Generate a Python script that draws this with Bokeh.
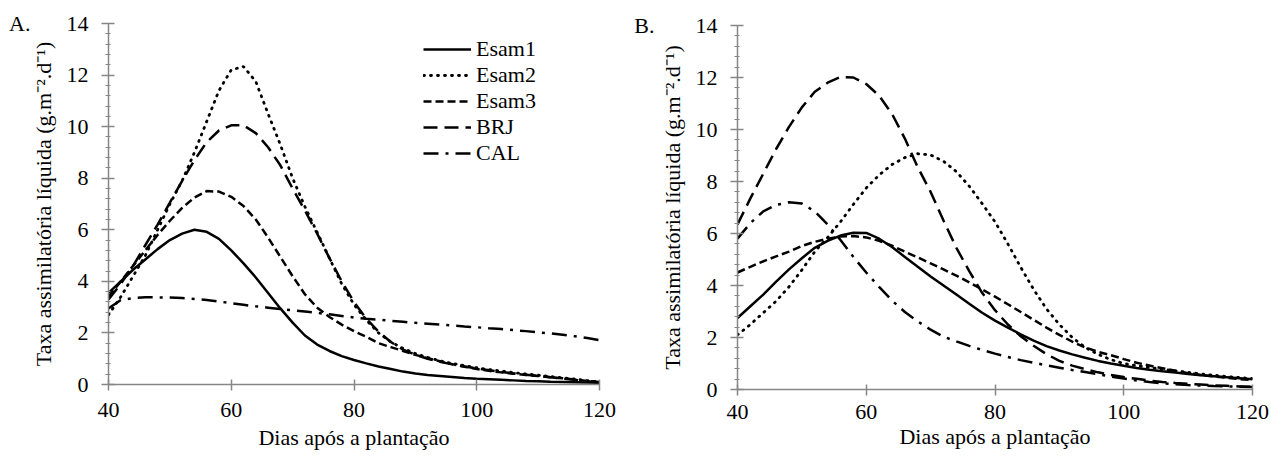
from bokeh.plotting import figure
from bokeh.layouts import row
from bokeh.models import Legend, LegendItem, SingleIntervalTicker, FixedTicker, LinearAxis, Range1d
from bokeh.embed import file_html
from bokeh.resources import INLINE

days = [40, 42, 44, 46, 48, 50, 52, 54, 56, 58, 60, 62, 64, 66, 68, 70, 72, 74, 76, 78,
        80, 82, 84, 86, 88, 90, 92, 94, 96, 98, 100, 102, 104, 106, 108, 110, 112, 114, 116, 118, 120]

names = ["Esam1", "Esam2", "Esam3", "BRJ", "CAL"]

# Panel A
a_esam1 = [3.55, 4.0, 4.45, 4.85, 5.25, 5.6, 5.85, 6.0, 5.92, 5.65, 5.2, 4.7, 4.15, 3.55, 2.95, 2.4, 1.9, 1.55, 1.3, 1.1,
           0.95, 0.82, 0.7, 0.6, 0.5, 0.43, 0.37, 0.33, 0.29, 0.25, 0.22, 0.2, 0.18, 0.16, 0.14, 0.13, 0.11, 0.1, 0.09, 0.08, 0.07]
a_esam2 = [2.7, 3.4, 4.2, 5.0, 6.0, 7.0, 7.9, 9.0, 10.2, 11.4, 12.2, 12.33, 11.75, 10.5, 9.3, 8.0, 6.9, 5.9, 4.9, 3.9,
           3.1, 2.5, 2.0, 1.65, 1.4, 1.2, 1.05, 0.92, 0.82, 0.73, 0.65, 0.58, 0.52, 0.46, 0.41, 0.36, 0.31, 0.26, 0.21, 0.15, 0.1]
a_esam3 = [3.4, 4.0, 4.6, 5.2, 5.8, 6.35, 6.85, 7.25, 7.5, 7.48, 7.28, 6.92, 6.4, 5.7, 4.95, 4.2, 3.5, 2.98, 2.62, 2.32,
           2.07, 1.85, 1.6, 1.45, 1.3, 1.15, 1.02, 0.9, 0.79, 0.69, 0.6, 0.53, 0.47, 0.42, 0.37, 0.33, 0.28, 0.24, 0.19, 0.14, 0.1]
a_brj = [3.3, 3.9, 4.6, 5.4, 6.2, 7.05, 7.9, 8.7, 9.4, 9.85, 10.05, 10.05, 9.75, 9.2, 8.5, 7.6, 6.75, 5.85, 4.9, 4.0,
         3.2, 2.55, 2.05, 1.65, 1.35, 1.15, 1.0, 0.88, 0.78, 0.7, 0.62, 0.55, 0.49, 0.43, 0.38, 0.33, 0.28, 0.23, 0.18, 0.13, 0.08]
a_cal = [2.95, 3.28, 3.35, 3.38, 3.38, 3.37, 3.35, 3.32, 3.28, 3.22, 3.15, 3.09, 3.03, 2.98, 2.93, 2.88, 2.83, 2.78, 2.72, 2.66,
         2.6, 2.55, 2.51, 2.47, 2.43, 2.39, 2.36, 2.33, 2.29, 2.25, 2.22, 2.18, 2.15, 2.11, 2.07, 2.02, 1.98, 1.93, 1.87, 1.8, 1.72]

# Panel B
b_esam1 = [2.75, 3.2, 3.65, 4.15, 4.62, 5.05, 5.45, 5.72, 5.92, 6.03, 6.02, 5.8, 5.48, 5.1, 4.72, 4.35, 4.0, 3.65, 3.3, 2.95,
           2.65, 2.38, 2.12, 1.88, 1.67, 1.5, 1.35, 1.22, 1.1, 1.0, 0.91, 0.83, 0.76, 0.7, 0.65, 0.6, 0.55, 0.51, 0.47, 0.43, 0.39]
b_esam2 = [2.1, 2.5, 2.95, 3.4, 3.95, 4.6, 5.3, 5.85, 6.45, 7.12, 7.75, 8.25, 8.65, 8.92, 9.07, 9.02, 8.78, 8.38, 7.82, 7.15,
           6.45, 5.6, 4.7, 3.85, 3.1, 2.5, 2.0, 1.62, 1.35, 1.15, 1.0, 0.92, 0.85, 0.78, 0.72, 0.66, 0.6, 0.55, 0.5, 0.46, 0.42]
b_esam3 = [4.5, 4.72, 4.93, 5.12, 5.3, 5.52, 5.68, 5.8, 5.88, 5.9, 5.85, 5.72, 5.53, 5.3, 5.08, 4.85, 4.62, 4.38, 4.12, 3.85,
           3.57, 3.28, 2.98, 2.68, 2.38, 2.1, 1.84, 1.62, 1.45, 1.32, 1.17, 1.03, 0.92, 0.82, 0.72, 0.63, 0.56, 0.5, 0.45, 0.4, 0.36]
b_brj = [6.35, 7.35, 8.3, 9.25, 10.1, 10.85, 11.45, 11.8, 12.02, 12.0, 11.75, 11.3, 10.6, 9.65, 8.55, 7.6, 6.5, 5.45, 4.55, 3.72,
         3.05, 2.5, 2.05, 1.68, 1.36, 1.1, 0.92, 0.78, 0.66, 0.56, 0.48, 0.41, 0.34, 0.29, 0.25, 0.22, 0.19, 0.16, 0.14, 0.12, 0.1]
b_cal = [5.8, 6.4, 6.85, 7.1, 7.2, 7.15, 6.85, 6.35, 5.75, 5.1, 4.5, 3.95, 3.42, 2.98, 2.62, 2.3, 2.03, 1.85, 1.68, 1.52,
         1.38, 1.25, 1.13, 1.03, 0.93, 0.84, 0.75, 0.67, 0.59, 0.5, 0.42, 0.35, 0.29, 0.24, 0.2, 0.17, 0.15, 0.13, 0.12, 0.11, 0.1]

x_title = "Dias após a plantação"
y_title = "Taxa assimilatória líquida (g.m\u207b\u00b2.d\u207b\u00b9)"

FONT = "Liberation Serif"
FS = "22px"
AXIS_GRAY = "#868686"

styles = {
    "Esam1": dict(line_dash="solid", line_width=2.5),
    "Esam2": dict(line_dash="1 6", line_width=2.8, line_cap="round"),
    "Esam3": dict(line_dash="8 4", line_width=2.5),
    "BRJ": dict(line_dash="14 7", line_width=2.5),
    "CAL": dict(line_dash="15 7 3 7", line_width=2.5),
}


def make_panel(width, bl, br, bt, bb, series, letter, letter_standoff,
               x_label_standoff, x_title_standoff, with_legend):
    p = figure(width=width, height=456, x_range=Range1d(40, 120), y_range=Range1d(0, 14),
               output_backend="svg", toolbar_location=None,
               min_border_left=bl, min_border_right=br, min_border_top=bt, min_border_bottom=bb)
    try:
        p.frame_align = False
    except Exception:
        pass
    p.xgrid.visible = False
    p.ygrid.visible = False
    p.outline_line_color = None
    p.background_fill_color = "white"
    p.border_fill_color = "white"

    p.xaxis.ticker = SingleIntervalTicker(interval=20, num_minor_ticks=0)
    p.yaxis.ticker = SingleIntervalTicker(interval=2, num_minor_ticks=5)
    for ax in (p.xaxis, p.yaxis):
        ax.axis_line_color = AXIS_GRAY
        ax.axis_line_width = 1.5
        ax.major_tick_line_color = AXIS_GRAY
        ax.major_tick_line_width = 1.5
        ax.minor_tick_line_color = AXIS_GRAY
        ax.minor_tick_line_width = 1.2
        ax.major_label_text_font = FONT
        ax.major_label_text_font_size = FS
        ax.major_label_text_color = "black"
        ax.axis_label_text_font = FONT
        ax.axis_label_text_font_size = FS
        ax.axis_label_text_font_style = "normal"
        ax.axis_label_text_color = "black"
    p.xaxis.major_tick_in = 5
    p.xaxis.major_tick_out = 6
    p.xaxis.minor_tick_line_color = None
    p.xaxis.major_label_standoff = x_label_standoff
    p.xaxis.axis_label_standoff = x_title_standoff
    p.xaxis.axis_label = x_title

    p.yaxis.major_tick_in = 6
    p.yaxis.major_tick_out = 7
    p.yaxis.minor_tick_in = 2
    p.yaxis.minor_tick_out = 3
    p.yaxis.major_label_standoff = 13
    p.yaxis.axis_label_standoff = 8
    p.yaxis.axis_label = y_title

    # panel letter, drawn as the single label of an outer, line-less axis
    letter_axis = LinearAxis(ticker=FixedTicker(ticks=[14]), major_label_overrides={14: letter},
                             axis_line_color=None, major_tick_line_color=None, minor_tick_line_color=None,
                             major_tick_in=0, major_tick_out=0, major_label_standoff=letter_standoff,
                             major_label_text_font=FONT, major_label_text_font_size=FS,
                             major_label_text_color="black")
    p.add_layout(letter_axis, "left")

    renderers = []
    for name, vals in zip(names, series):
        r = p.line(days, vals, line_color="black", **styles[name])
        renderers.append(r)

    if with_legend:
        legend = Legend(items=[LegendItem(label=n, renderers=[r]) for n, r in zip(names, renderers)],
                        location=(315, 218), orientation="vertical",
                        glyph_width=48, glyph_height=24, label_height=24, label_standoff=5,
                        spacing=-1, padding=0, margin=0,
                        border_line_color=None, background_fill_alpha=0,
                        label_text_font=FONT, label_text_font_size=FS, label_text_color="black")
        p.add_layout(legend)
    return p


pA = make_panel(620, 108, 21, 23, 72, [a_esam1, a_esam2, a_esam3, a_brj, a_cal], "A.", -3, 12, 5, True)
pB = make_panel(651, 117, 19, 25, 67, [b_esam1, b_esam2, b_esam3, b_brj, b_cal], "B.", 2, 9, 2, False)

layout = row(pA, pB)
open("out.html", "w").write(file_html(layout, INLINE))
